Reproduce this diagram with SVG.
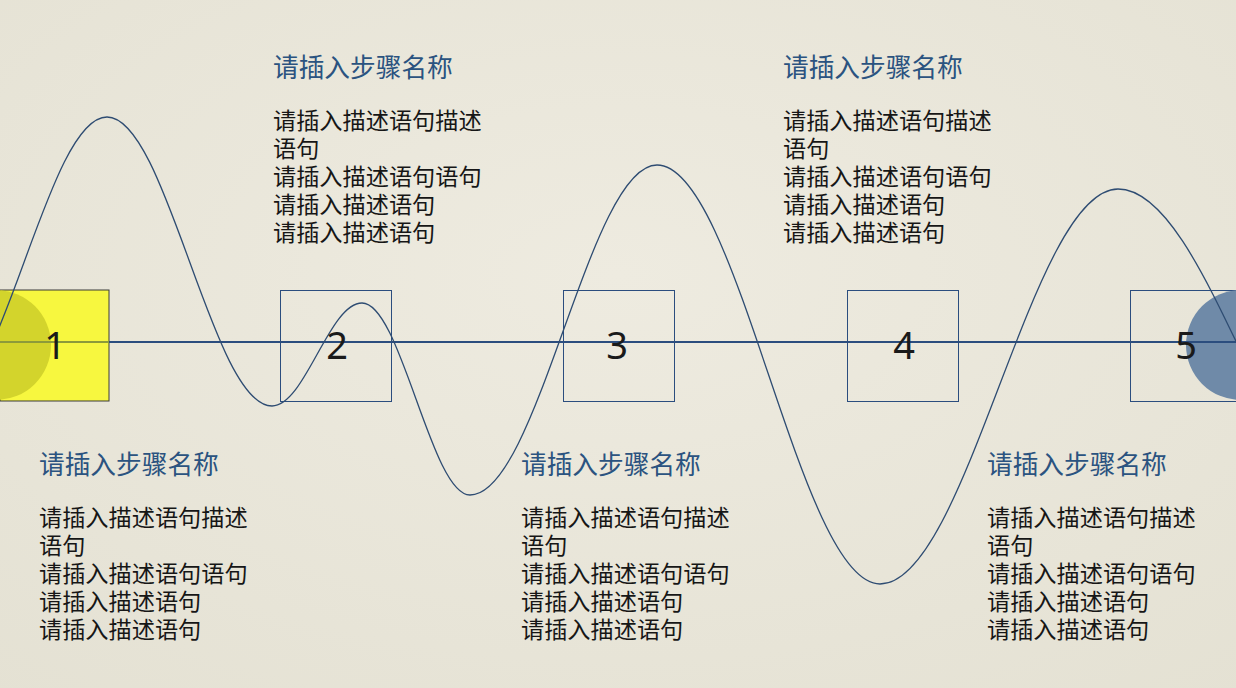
<svg xmlns="http://www.w3.org/2000/svg" width="1236" height="688" viewBox="0 0 1236 688">
<style>
.title{font-family:"Microsoft YaHei","Noto Sans CJK SC",sans-serif;font-size:25.7px;fill:#2b5380}
.body{font-family:"Microsoft YaHei","Noto Sans CJK SC",sans-serif;font-size:23.2px;fill:#161616}
.num{font-family:"Noto Sans","Noto Sans CJK SC",sans-serif;font-size:38px;fill:#1a1a1a;text-anchor:middle}
.box{fill:none;stroke:#2b4d7e;stroke-width:1}
</style>
<defs>
<radialGradient id="bg" cx="0.5" cy="0.4" r="0.8">
<stop offset="0" stop-color="#eeebe0"/>
<stop offset="1" stop-color="#e4e1d3"/>
</radialGradient>
</defs>
<rect width="1236" height="688" fill="url(#bg)"/>
<g id="node1">
<rect x="0" y="290" width="109" height="111" fill="#f7f73f" stroke="#3a3a3a" stroke-width="1"/>
<circle cx="-4" cy="345" r="55" fill="#d3d42c"/>
</g>
<g id="node2"><rect class="box" x="280.5" y="290.5" width="111" height="111"/></g>
<g id="node3"><rect class="box" x="563.5" y="290.5" width="111" height="111"/></g>
<g id="node4"><rect class="box" x="847.5" y="290.5" width="111" height="111"/></g>
<g id="node5">
<rect class="box" x="1130.5" y="290.5" width="111" height="111"/>
<circle cx="1241" cy="345" r="55" fill="#6f8aa8"/>
</g>
<g id="connectors" fill="none">
<line x1="0" y1="342" x2="109" y2="342" stroke="#8c9a3a" stroke-width="2"/>
<line x1="109" y1="342" x2="1236" y2="342" stroke="#2b4d7e" stroke-width="2"/>
<path d="M-58,405 C2,405 47,117 107,117 C167,117 212,406 272,406 C305,406 329,303 362,303 C401,303 431,495 470,495 C538,495 589,165 657,165 C738,165 799,584 880,584 C967,584 1031,189 1118,189 C1209,189 1277,523 1368,523" stroke="#2e4c72" stroke-width="1.3"/>
</g>
<g id="labels">
<text class="num" x="55" y="359">1</text>
<text class="num" x="337" y="359">2</text>
<text class="num" x="617" y="359">3</text>
<text class="num" x="904" y="359">4</text>
<text class="num" x="1186" y="359">5</text>
</g>
<g id="text2">
<text class="title" x="273" y="77">请插入步骤名称</text>
<text class="body" x="273" y="129">请插入描述语句描述</text>
<text class="body" x="273" y="157">语句</text>
<text class="body" x="273" y="185">请插入描述语句语句</text>
<text class="body" x="273" y="213">请插入描述语句</text>
<text class="body" x="273" y="241">请插入描述语句</text>
</g>
<g id="text4">
<text class="title" x="783" y="77">请插入步骤名称</text>
<text class="body" x="783" y="129">请插入描述语句描述</text>
<text class="body" x="783" y="157">语句</text>
<text class="body" x="783" y="185">请插入描述语句语句</text>
<text class="body" x="783" y="213">请插入描述语句</text>
<text class="body" x="783" y="241">请插入描述语句</text>
</g>
<g id="text1">
<text class="title" x="39" y="474">请插入步骤名称</text>
<text class="body" x="39" y="526">请插入描述语句描述</text>
<text class="body" x="39" y="554">语句</text>
<text class="body" x="39" y="582">请插入描述语句语句</text>
<text class="body" x="39" y="610">请插入描述语句</text>
<text class="body" x="39" y="638">请插入描述语句</text>
</g>
<g id="text3">
<text class="title" x="521" y="474">请插入步骤名称</text>
<text class="body" x="521" y="526">请插入描述语句描述</text>
<text class="body" x="521" y="554">语句</text>
<text class="body" x="521" y="582">请插入描述语句语句</text>
<text class="body" x="521" y="610">请插入描述语句</text>
<text class="body" x="521" y="638">请插入描述语句</text>
</g>
<g id="text5">
<text class="title" x="987" y="474">请插入步骤名称</text>
<text class="body" x="987" y="526">请插入描述语句描述</text>
<text class="body" x="987" y="554">语句</text>
<text class="body" x="987" y="582">请插入描述语句语句</text>
<text class="body" x="987" y="610">请插入描述语句</text>
<text class="body" x="987" y="638">请插入描述语句</text>
</g>
</svg>
